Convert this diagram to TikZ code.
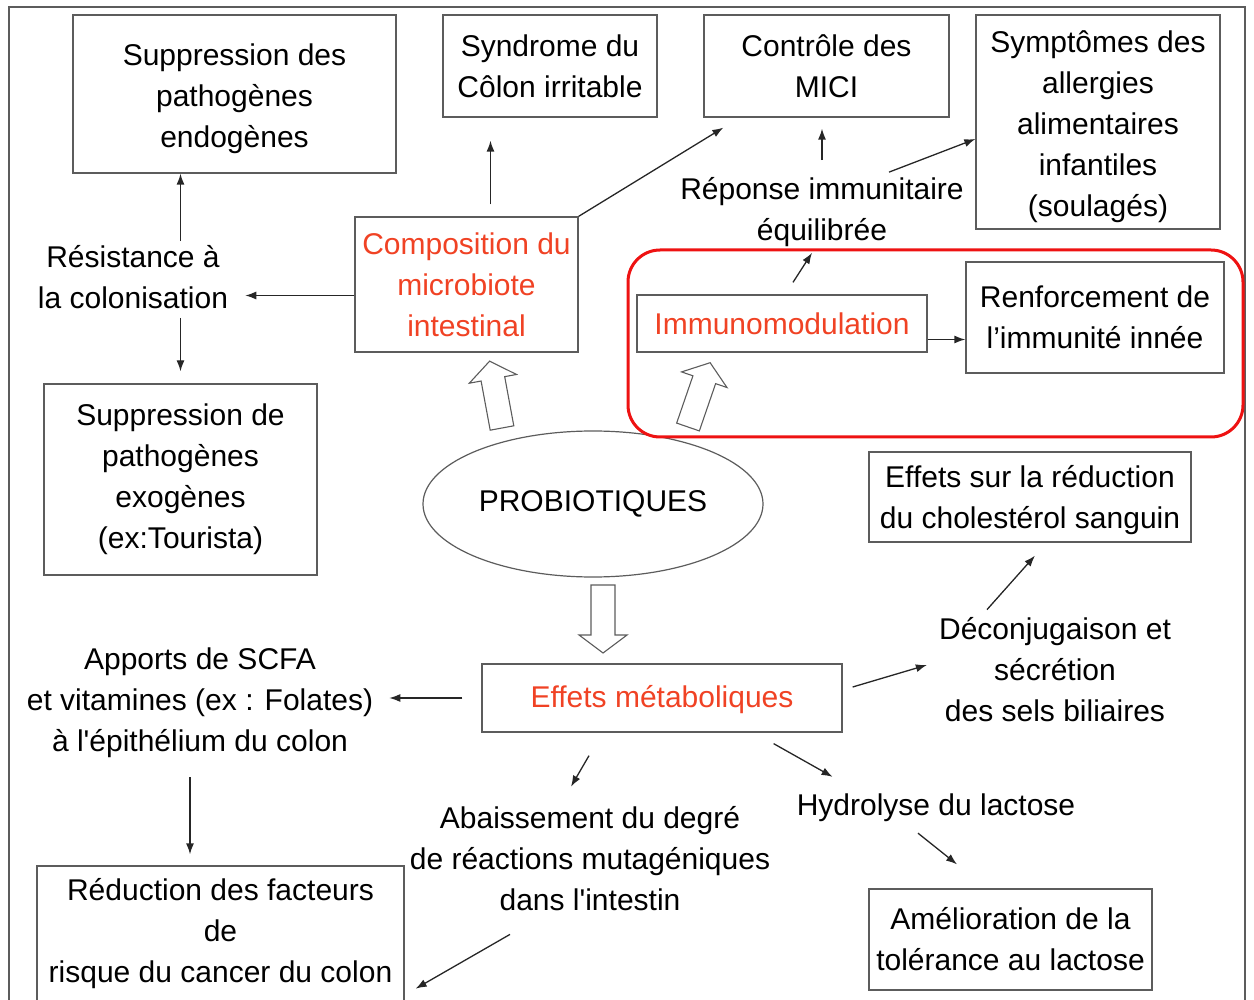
\documentclass[tikz,border=0pt]{standalone}
\usepackage{fontspec}
\setmainfont{Liberation Sans}
\usepackage{tikz}
\usetikzlibrary{shapes.geometric,arrows.meta}
\definecolor{redText}{RGB}{240,66,36}
\definecolor{redFrame}{RGB}{238,18,18}
\definecolor{lineGray}{RGB}{92,92,92}
\tikzset{
    box/.style={draw=lineGray, line width=1.3pt, align=center, inner sep=0pt,
		font=\fontsize{30}{41}\selectfont},
    plainText/.style={align=center, inner sep=4pt, font=\fontsize{30}{41}\selectfont},
    link/.style={->, draw=black!85, line width=1.3pt}
}
\tikzset{
    bigArrow/.pic={
		\draw[lineGray, line width=1.1pt, line join=miter] (-12,0) -- (-12,-50) -- (-24,-50) -- (0,-68) -- (24,-50) -- (12,-50) -- (12,0) -- cycle;
	}
}

\begin{document}
\begin{tikzpicture}[x=1pt, y=-1pt, >={Latex[length=11pt,width=8pt]}]
			\useasboundingbox (0,0) rectangle (1254,1000);
			\draw[lineGray, line width=1.3pt] (9,7) rectangle (1245,1012);
			\node[box, minimum width=323, minimum height=158] (endo) at (234.5,94) {\rule{0pt}{32pt}Suppression des\\pathogènes\\endogènes};
			\node[box, minimum width=214, minimum height=102] (ibs) at (550,66) {Syndrome du\\Côlon irritable};
			\node[box, minimum width=245, minimum height=102] (mici) at (826.5,66) {Contrôle des\\MICI};
			\node[box, minimum width=244, minimum height=214] (allerg) at (1098,122) {\rule{0pt}{32pt}Symptômes des\\allergies\\alimentaires\\infantiles\\(soulagés)};
			\node[box, text=redText, minimum width=223, minimum height=135] (comp) at (466.5,284.5) {Composition du\\microbiote\\intestinal};
			\node[box, text=redText, minimum width=290, minimum height=57] (immuno) at (782,323.5) {Immunomodulation};
			\node[box, minimum width=258, minimum height=111] (renf) at (1095,317.5) {Renforcement de\\l’immunité innée};
			\node[box, minimum width=273, minimum height=191] (exo) at (180.5,479.5) {Suppression de\\pathogènes\\exogènes\\(ex:Tourista)};
			\node[ellipse, draw=lineGray, line width=1.2pt, minimum width=340, minimum height=146,
				font=\fontsize{30}{41}\selectfont] (probio) at (593,504) {PROBIOTIQUES};
			\node[box, text=redText, minimum width=360, minimum height=68] (metab) at (662,698) {\rule{0pt}{26pt}Effets métaboliques};
			\node[box, minimum width=322, minimum height=90] (chol) at (1030,497) {\rule{0pt}{28pt}Effets sur la réduction\\du cholestérol sanguin};
			\node[box, minimum width=283, minimum height=101] (lact) at (1010.5,939.5) {Amélioration de la\\tolérance au lactose};
			\node[box, minimum width=367, minimum height=136] (cancer) at (220.5,934) {Réduction des facteurs\\de\\risque du cancer du colon};
			\node[plainText] (resist) at (133,277) {Résistance à\\la colonisation};
			\node[plainText] (reponse) at (822,212) {Réponse immunitaire\\équilibrée};
			\node[plainText] (apports) at (200,703) {Apports de SCFA\\et vitamines (ex : Folates)\\à l\textquotesingle épithélium du colon};
			\node[plainText] (abaiss) at (590,859) {Abaissement du degré\\de réactions mutagéniques\\dans l\textquotesingle intestin};
			\node[plainText] (hydro) at (936,808) {Hydrolyse du lactose};
			\node[plainText] (deconj) at (1055,670) {Déconjugaison et\\sécrétion\\des sels biliaires};
			\draw[redFrame, line width=3pt, rounded corners=32pt] (628,250) rectangle (1243,437);
			\pic[rotate=10.5] at (502,428) {bigArrow};
			\pic[rotate=-19] at (688,427) {bigArrow};
			\pic[rotate=180] at (603,585) {bigArrow};
			\draw[link] (resist.north -| exo.north) -- (endo.south -| exo.north);
			\draw[link, shorten <=5pt, shorten >=12pt] (resist.south -| exo.north) -- (exo.north);
			\draw[link, shorten >=13pt] ([yshift=-11pt]comp.west) -- ([yshift=-11pt]comp.west -| resist.east);
			\draw[link, shorten <=12pt, shorten >=23pt] ([xshift=24pt]comp.north) -- ([xshift=24pt]comp.north |- ibs.south);
			\draw[link] (comp.north east) -- ([xshift=20pt,yshift=-10pt]mici.south west);
			\draw[link, shorten >=11pt] ([yshift=13pt]reponse.north) -- (reponse.north |- mici.south);
			\draw[link] ([xshift=67pt,yshift=1pt]reponse.north) -- ([yshift=-17pt]allerg.west);
			\draw[link] ([xshift=11pt,yshift=12pt]immuno.north) -- ([xshift=-10pt,yshift=-2pt]reponse.south);
			\draw[link] ([yshift=-16pt]immuno.east) -- ([yshift=-16pt]immuno.east -| renf.west);
			\draw[link, shorten <=19pt, shorten >=12pt] (metab.west) -- (metab.west -| apports.east);
			\draw[link, shorten <=15pt, shorten >=11pt] ([xshift=-10pt]apports.south) -- ([xshift=-10pt]apports.south |- cancer.north);
			\draw[link] ([xshift=-73pt,yshift=-23pt]metab.south) -- ([xshift=-19pt,yshift=16pt]abaiss.north);
			\draw[link] ([xshift=-69pt,yshift=-11pt]metab.south east) -- ([xshift=40pt,yshift=13pt]hydro.north west);
			\draw[link] ([xshift=10pt,yshift=11pt]metab.east) -- ([xshift=-8pt,yshift=5pt]deconj.west);
			\draw[link] ([xshift=-68pt,yshift=4pt]deconj.north) -- ([xshift=5pt,yshift=-13pt]chol.south);
			\draw[link] ([xshift=-18pt,yshift=-7pt]hydro.south) -- ([xshift=-53.5pt,yshift=24pt]lact.north);
			\draw[link] ([xshift=-80pt,yshift=-19pt]abaiss.south) -- ([xshift=11pt,yshift=14pt]cancer.south east);
			%\draw[link] (probio) -- (metab);
	\end{tikzpicture}
\end{document}
